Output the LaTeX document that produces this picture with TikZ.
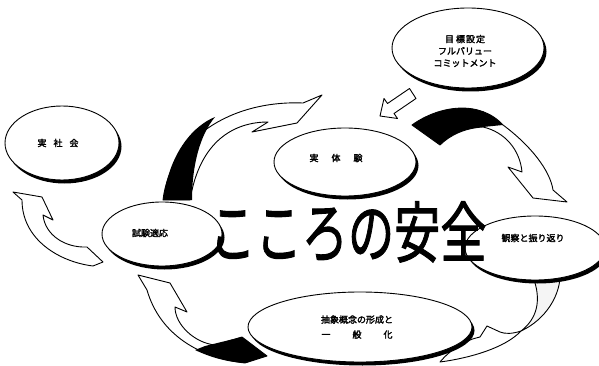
\documentclass[tikz,border=0pt]{standalone}
\usepackage{fontspec}
\usepackage{graphicx}
\newfontfamily\jp{Noto Sans CJK JP}
\newfontfamily\jpb{Noto Sans CJK JP}[FakeBold=2.2]
\newfontfamily\jpt{Noto Sans CJK JP}[FakeBold=1.6]
\usetikzlibrary{shapes.geometric,shadows}
\begin{document}
\begin{tikzpicture}[x=1pt,y=-1pt,
  bub/.style={ellipse,draw,line width=0.9pt,fill=white,inner sep=0pt,
    drop shadow={shadow xshift=2.5pt,shadow yshift=-3.5pt,fill=black,opacity=1}},
  lbl/.style={font=\jpb\fontsize{9}{12}\selectfont,align=center,inner sep=0pt},
  arr/.style={draw,line width=0.9pt,fill=white,line join=round},
  blk/.style={fill=black}]
\useasboundingbox (0,0) rectangle (599,366);

% top-left curved arrow
\draw[arr] (322,95) -- (297,123) -- (252,132) -- (268,122)
  .. controls (235,122) and (200,140) .. (190,200) -- (163,200)
  .. controls (170,140) and (230,100) .. (303,103) -- cycle;
\fill[blk] (163,200) .. controls (170,150) and (195,125) .. (215,117)
  .. controls (200,135) and (192,165) .. (192,200) -- cycle;

% top-right curved arrow
\draw[arr] (412,125) .. controls (440,105) and (480,100) .. (503,125)
  .. controls (530,145) and (550,170) .. (553,190) -- (567,202) -- (533,198)
  -- (508,167) -- (522,172) .. controls (520,150) and (505,132) .. (483,127)
  .. controls (465,128) and (450,135) .. (440,145) -- cycle;
\fill[blk] (412,125) .. controls (440,105) and (480,100) .. (503,125) -- (483,127)
  .. controls (465,128) and (450,135) .. (440,145) -- cycle;

% bottom-right curved arrow
\draw[arr] (521,331) .. controls (512,334) and (505,334) .. (500,332) -- (487,326) -- (480,337)
  .. controls (465,340) and (450,350) .. (440,362)
  .. controls (470,358) and (505,348) .. (521,331) -- cycle;
\draw[arr,fill=gray!8] (521,331) .. controls (538,318) and (540,300) .. (535,283) -- (560,270)
  .. controls (562,295) and (545,320) .. (521,331) -- cycle;

% bottom-left curved arrow
\draw[arr] (138,275) -- (170,283) -- (187,312) -- (175,307)
  .. controls (175,325) and (195,343) .. (215,345) -- (242,337) -- (267,356) -- (245,363)
  .. controls (200,358) and (160,335) .. (147,290) -- cycle;
\fill[blk] (205,346) -- (242,337) -- (267,356) -- (245,363)
  .. controls (228,362) and (212,358) .. (195,350) -- cycle;

% left curved arrow
\draw[arr] (13,192) -- (42,197) -- (53,220) -- (43,215)
  .. controls (45,235) and (65,248) .. (87,247) -- (103,262) -- (93,266)
  .. controls (60,262) and (22,240) .. (22,200) -- cycle;

% small block arrow from goal
\draw[arr] (416,98.5) -- (394,113.5) -- (397.5,118.5) -- (380,116)
  -- (384,98.5) -- (387.5,103.5) -- (409.5,88.5) -- cycle;

% ellipses
\node[bub,minimum width=152,minimum height=80] (goal) at (468,48) {};
\node[lbl] (goal-t) at (465,51) {目\hspace{2pt}標\hspace{1pt}設\hspace{1pt}定\\フルバリュー\\コミットメント};
\node[bub,minimum width=114,minimum height=74] (soc) at (62,143) {};
\node[lbl] (soc-t) at (58,143) {実\hspace{7pt}社\hspace{7pt}会};
\node[bub,minimum width=142,minimum height=68] (exp) at (345,162) {};
\node[lbl] (exp-t) at (336,158) {実\hspace{13pt}体\hspace{13pt}験};
\node[bub,minimum width=120,minimum height=64] (test) at (162,234) {};
\node[lbl] (test-t) at (150,233) {試験適応};
\node[bub,minimum width=140,minimum height=64] (obs) at (535,248) {};
\node[lbl] (obs-t) at (533,238) {観察と振り返り};
\node[bub,minimum width=224,minimum height=70] (abs) at (360,327) {};
\node[lbl] (abs-t) at (357,327) {抽象概念の形成と\\[3pt]一\hspace{22pt}般\hspace{22pt}化};

% big title
\node[anchor=base,inner sep=0pt] (title) at (348,257)
  {\scalebox{0.7}[1]{\jpt\fontsize{66}{66}\selectfont こころの安全}};
\end{tikzpicture}
\end{document}
